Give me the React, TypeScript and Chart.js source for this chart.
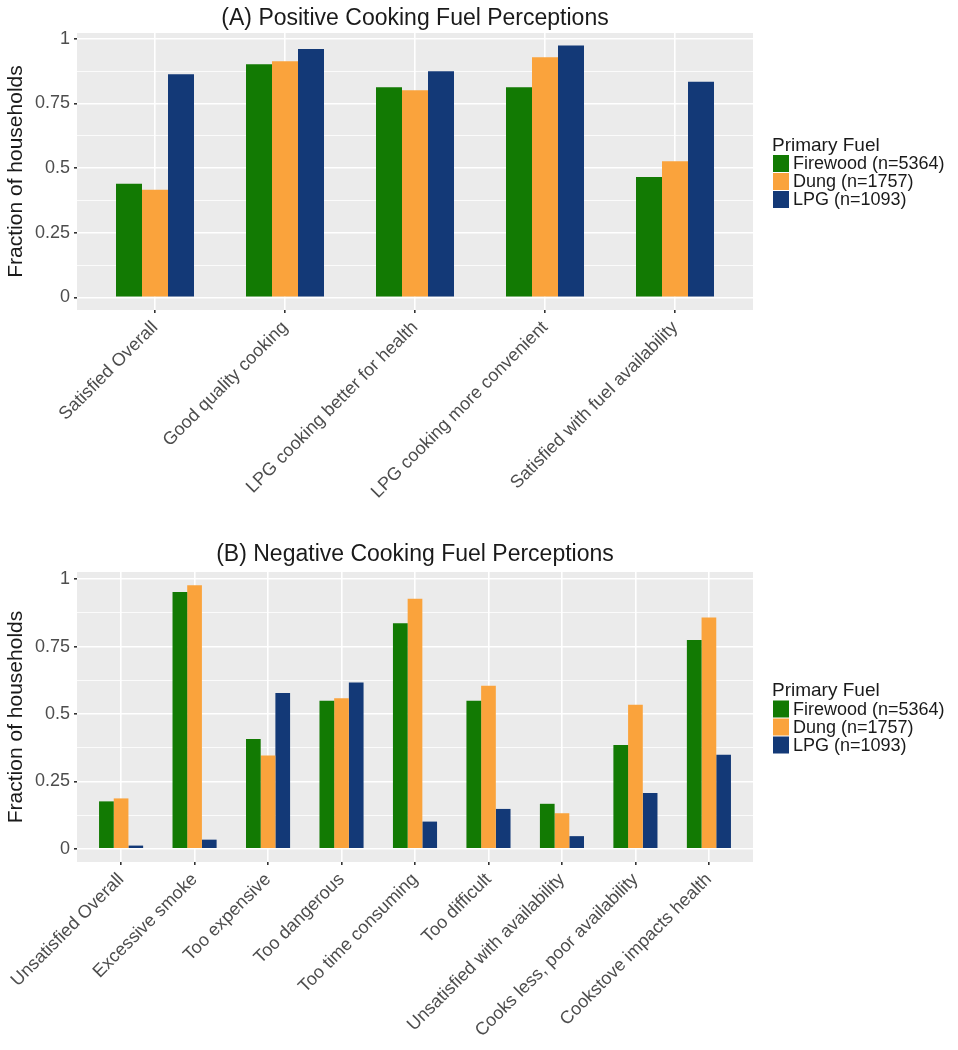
import React, { useEffect, useRef } from "react";
import { Chart, registerables } from "chart.js";

Chart.register(...registerables);

const FONT = "'Liberation Sans', Arial, Helvetica, sans-serif";

// ---- shared ----
const seriesNames = ["Firewood (n=5364)", "Dung (n=1757)", "LPG (n=1093)"];
const seriesColors = ["#127A03", "#FAA33C", "#133977"];
const legendTitle = "Primary Fuel";
const yAxisTitle = "Fraction of households";
const yMajorTicks = [0, 0.25, 0.5, 0.75, 1];
const yMajorLabels = ["0", "0.25", "0.5", "0.75", "1"];
const yMinorTicks = [0.125, 0.375, 0.625, 0.875];

// ---- panel A ----
const posTitle = "(A) Positive Cooking Fuel Perceptions";
const posCategories = [
  "Satisfied Overall",
  "Good quality cooking",
  "LPG cooking better for health",
  "LPG cooking more convenient",
  "Satisfied with fuel availability",
];
const posFirewood = [0.44, 0.902, 0.813, 0.813, 0.466];
const posDung = [0.416, 0.913, 0.801, 0.929, 0.527];
const posLPG = [0.863, 0.961, 0.875, 0.974, 0.834];

// ---- panel B ----
const negTitle = "(B) Negative Cooking Fuel Perceptions";
const negCategories = [
  "Unsatisfied Overall",
  "Excessive smoke",
  "Too expensive",
  "Too dangerous",
  "Too time consuming",
  "Too difficult",
  "Unsatisfied with availability",
  "Cooks less, poor availability",
  "Cookstove impacts health",
];
const negFirewood = [0.176, 0.953, 0.407, 0.549, 0.837, 0.549, 0.167, 0.385, 0.775];
const negDung = [0.187, 0.978, 0.346, 0.559, 0.928, 0.605, 0.132, 0.534, 0.858];
const negLPG = [0.012, 0.034, 0.578, 0.617, 0.101, 0.148, 0.047, 0.207, 0.349];

type PanelProps = {
  title: string;
  categories: string[];
  series: number[][];
  yMin: number;
  yMax: number;
  top: number;
  panelTop: number;
  panelBottom: number;
  titleY: number;
};

const W = 958;
const H = 525;
const PANEL_LEFT = 77;
const PANEL_RIGHT = 753;

function isMajor(v: number) {
  return yMajorTicks.some((m) => Math.abs(m - v) < 1e-9);
}

function Panel(props: PanelProps) {
  const ref = useRef<HTMLCanvasElement | null>(null);
  useEffect(() => {
    const canvas = ref.current;
    if (!canvas) return;
    const { title, categories, series, yMin, yMax, panelTop, panelBottom, titleY } = props;

    const bgPlugin = {
      id: "panelBg",
      beforeDraw(chart: any) {
        const { ctx, chartArea } = chart;
        ctx.save();
        ctx.fillStyle = "#EBEBEB";
        ctx.fillRect(chartArea.left, chartArea.top, chartArea.right - chartArea.left, chartArea.bottom - chartArea.top);
        ctx.restore();
      },
      afterDraw(chart: any) {
        const { ctx, chartArea } = chart;
        ctx.save();
        // title
        ctx.fillStyle = "#1a1a1a";
        ctx.font = `23px ${FONT}`;
        ctx.textAlign = "center";
        ctx.textBaseline = "middle";
        ctx.fillText(title, (chartArea.left + chartArea.right) / 2, titleY);
        // legend
        const cy = (chartArea.top + chartArea.bottom) / 2;
        const lx = 772;
        ctx.textAlign = "left";
        ctx.textBaseline = "alphabetic";
        ctx.font = `19px ${FONT}`;
        ctx.fillStyle = "#1a1a1a";
        ctx.fillText(legendTitle, lx, cy - 21);
        const rowH = 18;
        const rowTop = cy - 17;
        ctx.font = `18px ${FONT}`;
        seriesNames.forEach((name, i) => {
          const y = rowTop + i * rowH;
          ctx.fillStyle = seriesColors[i];
          ctx.fillRect(lx + 1, y + 0.5, 16, 17);
          ctx.fillStyle = "#1a1a1a";
          ctx.textBaseline = "middle";
          ctx.fillText(name, lx + 21, y + rowH / 2 + 1);
        });
        ctx.restore();
      },
    };

    const n = categories.length;
    const chart = new Chart(canvas, {
      type: "bar",
      data: {
        datasets: series.map((vals, si) => ({
          label: seriesNames[si],
          data: vals.map((v, i) => ({ x: i, y: v })),
          backgroundColor: seriesColors[si],
          borderWidth: 0,
          categoryPercentage: 0.6,
          barPercentage: 1,
        })),
      },
      options: {
        animation: false,
        responsive: false,
        maintainAspectRatio: false,
        layout: { padding: { left: 0, right: W - PANEL_RIGHT, top: panelTop, bottom: 0 } },
        plugins: { legend: { display: false }, title: { display: false }, tooltip: { enabled: false } },
        scales: {
          x: {
            type: "linear",
            offset: false,
            min: -0.6,
            max: n - 1 + 0.6,
            afterBuildTicks: (s: any) => {
              s.ticks = categories.map((_, i) => ({ value: i }));
            },
            afterFit: (s: any) => {
              s.height = H - panelBottom;
            },
            ticks: {
              autoSkip: false,
              maxRotation: 45,
              minRotation: 45,
              padding: 4,
              color: "#4D4D4D",
              font: { family: FONT, size: 18 },
              callback: (v: any) => categories[Math.round(Number(v))] ?? "",
            },
            grid: {
              color: "#FFFFFF",
              lineWidth: 1.6,
              drawTicks: true,
              tickLength: 3,
              tickColor: "#333333",
              offset: false,
            },
            border: { display: false },
          },
          y: {
            type: "linear",
            min: yMin,
            max: yMax,
            afterBuildTicks: (s: any) => {
              s.ticks = [...yMajorTicks, ...yMinorTicks].sort((a, b) => a - b).map((v) => ({ value: v }));
            },
            afterFit: (s: any) => {
              s.width = PANEL_LEFT;
            },
            ticks: {
              padding: 4,
              color: "#4D4D4D",
              font: { family: FONT, size: 18 },
              callback: (v: any) => {
                const idx = yMajorTicks.findIndex((m) => Math.abs(m - Number(v)) < 1e-9);
                return idx >= 0 ? yMajorLabels[idx] : "";
              },
            },
            grid: {
              color: "#FFFFFF",
              lineWidth: (c: any) => (c.tick && isMajor(c.tick.value) ? 1.6 : 0.8),
              drawTicks: true,
              tickLength: 3,
              tickColor: (c: any) => (c.tick && isMajor(c.tick.value) ? "#333333" : "rgba(0,0,0,0)"),
            },
            border: { display: false },
            title: {
              display: true,
              text: yAxisTitle,
              color: "#1a1a1a",
              font: { family: FONT, size: 21 },
              padding: { top: 4, bottom: 0 },
            },
          },
        },
      },
      plugins: [bgPlugin],
    } as any);
    return () => chart.destroy();
  }, []);
  return (
    <div style={{ position: "absolute", left: 0, top: props.top, width: W, height: H }}>
      <canvas ref={ref} width={W} height={H} style={{ width: W, height: H, display: "block" }} />
    </div>
  );
}

export default function App() {
  return (
    <div style={{ position: "absolute", left: 0, top: 0, width: W, height: 1050, background: "#ffffff" }}>
      <Panel
        title={posTitle}
        categories={posCategories}
        series={[posFirewood, posDung, posLPG]}
        yMin={-0.0487}
        yMax={1.0227}
        top={0}
        panelTop={33}
        panelBottom={310}
        titleY={19}
      />
      <Panel
        title={negTitle}
        categories={negCategories}
        series={[negFirewood, negDung, negLPG]}
        yMin={-0.0489}
        yMax={1.0269}
        top={525}
        panelTop={47}
        panelBottom={337}
        titleY={30}
      />
    </div>
  );
}
